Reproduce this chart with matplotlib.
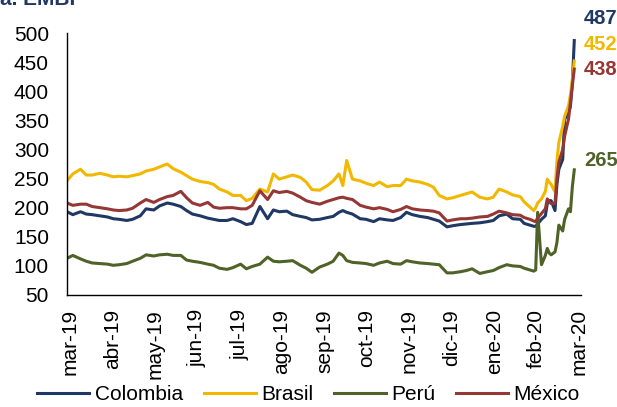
import numpy as np
import matplotlib
matplotlib.use("Agg")
import matplotlib.pyplot as plt

plt.rcParams['font.family'] = ['Liberation Sans', 'DejaVu Sans']

# business-day index since 1 Mar 2019
days = [0, 3, 7, 10, 13, 17, 21, 24, 27, 31, 34, 38, 41, 45, 48, 52, 55, 59, 62, 65,
        69, 73, 76, 79, 83, 86, 90, 93, 96, 100, 104, 107, 110, 114, 117, 121, 124, 127,
        131, 135, 138, 141, 143, 145, 148, 152, 155, 159, 162, 166, 169, 173, 176, 179,
        183, 187, 190, 193, 197, 200, 204, 207, 210, 214, 218, 221, 224, 228, 231, 235,
        237, 240, 242, 243, 244, 246, 248, 249, 250, 251, 253, 254, 255, 257, 258, 260,
        261, 262, 263]

colombia = [193, 188, 193, 189, 188, 186, 184, 181, 180, 178, 180, 186, 198, 196, 203,
            208, 206, 202, 195, 189, 186, 182, 180, 178, 178, 181, 176, 171, 173, 202,
            181, 196, 193, 194, 188, 185, 183, 179, 180, 183, 185, 192, 195, 192, 189,
            181, 180, 176, 181, 179, 178, 183, 192, 188, 185, 183, 180, 177, 167, 169,
            171, 172, 173, 174, 176, 178, 186, 189, 181, 180, 173, 170, 168, 168, 172,
            180, 186, 207, 212, 212, 195, 240, 266, 283, 352, 362, 374, 415, 487]

brasil = [246, 258, 266, 256, 256, 259, 256, 253, 254, 253, 255, 258, 263, 266, 270,
          275, 267, 261, 255, 249, 245, 243, 240, 232, 227, 221, 221, 212, 216, 232,
          227, 258, 249, 253, 256, 252, 244, 231, 230, 238, 246, 258, 238, 281, 249,
          246, 242, 238, 244, 236, 238, 238, 249, 246, 244, 240, 235, 221, 215, 217,
          221, 224, 227, 218, 215, 218, 232, 227, 222, 219, 210, 201, 195, 200, 208,
          215, 228, 249, 244, 240, 227, 280, 312, 340, 357, 375, 394, 420, 452]

peru = [113, 118, 112, 108, 105, 104, 103, 101, 102, 104, 108, 113, 119, 117, 119,
        120, 118, 118, 110, 108, 106, 103, 101, 96, 94, 97, 103, 95, 99, 103,
        115, 108, 107, 108, 109, 101, 96, 89, 98, 103, 108, 122, 118, 109, 106,
        105, 104, 101, 105, 108, 104, 103, 109, 107, 105, 104, 103, 102, 88, 88,
        90, 92, 95, 87, 90, 92, 97, 102, 100, 99, 96, 93, 91, 93, 192,
        102, 118, 130, 122, 119, 124, 140, 170, 160, 180, 198, 193, 236, 265]

mexico = [208, 204, 206, 206, 202, 200, 198, 196, 195, 196, 199, 208, 214, 209, 214,
          219, 221, 228, 217, 208, 204, 209, 201, 199, 200, 200, 198, 198, 204, 229,
          214, 229, 226, 228, 225, 218, 212, 209, 206, 211, 214, 217, 218, 216, 214,
          204, 201, 198, 200, 197, 193, 197, 202, 198, 196, 195, 194, 191, 177, 179,
          181, 181, 182, 184, 185, 189, 194, 191, 188, 187, 183, 180, 177, 176, 182,
          190, 198, 215, 210, 207, 207, 250, 278, 300, 323, 352, 380, 410, 438]

month_labels = ['mar-19', 'abr-19', 'may-19', 'jun-19', 'jul-19', 'ago-19', 'sep-19',
                'oct-19', 'nov-19', 'dic-19', 'ene-20', 'feb-20', 'mar-20']

series = [("Colombia", colombia, "#1F3864", 16),
          ("Brasil", brasil, "#F2B800", 12),
          ("Perú", peru, "#4F6228", 7),
          ("México", mexico, "#953735", 0)]

fig = plt.figure(figsize=(6.17, 4.07), dpi=100)
ax = fig.add_axes([0.1086, 0.2752, 0.8331, 0.6437])

for name, vals, col, dy in series:
    ax.plot(days, vals, color=col, lw=2.2, label=name, solid_joinstyle='round')
    ax.annotate(str(vals[-1]), xy=(days[-1], vals[-1]), xytext=(7, dy),
                textcoords='offset points', color=col, fontsize=14.5, fontweight='bold',
                va='center', ha='left', annotation_clip=False)

ax.set_ylim(50, 500)
ax.set_yticks(np.arange(50, 501, 50))
ax.set_xlim(0, 266.5)
ax.set_xticks(np.arange(13) * 22.0 + 1.5)
ax.set_xticklabels(month_labels, rotation=90, ha='center', va='top')

ax.tick_params(axis='both', length=0, labelsize=15)
ax.tick_params(axis='y', pad=13)
ax.tick_params(axis='x', pad=10)
for s in ['top', 'right']:
    ax.spines[s].set_visible(False)
for s in ['left', 'bottom']:
    ax.spines[s].set_linewidth(1.0)
    ax.spines[s].set_color('black')

fig.text(0.0, 1 - 5 / 407, "a. EMBI", color="#1F3864", fontsize=15, fontweight='bold',
         va='baseline', ha='left')

fig.legend(loc='lower center', bbox_to_anchor=(0.5, -0.014), ncol=4, frameon=False,
           fontsize=15, handlelength=2.5, columnspacing=1.0, handletextpad=0.25,
           borderaxespad=0)

fig.savefig("out.png", dpi=100)
